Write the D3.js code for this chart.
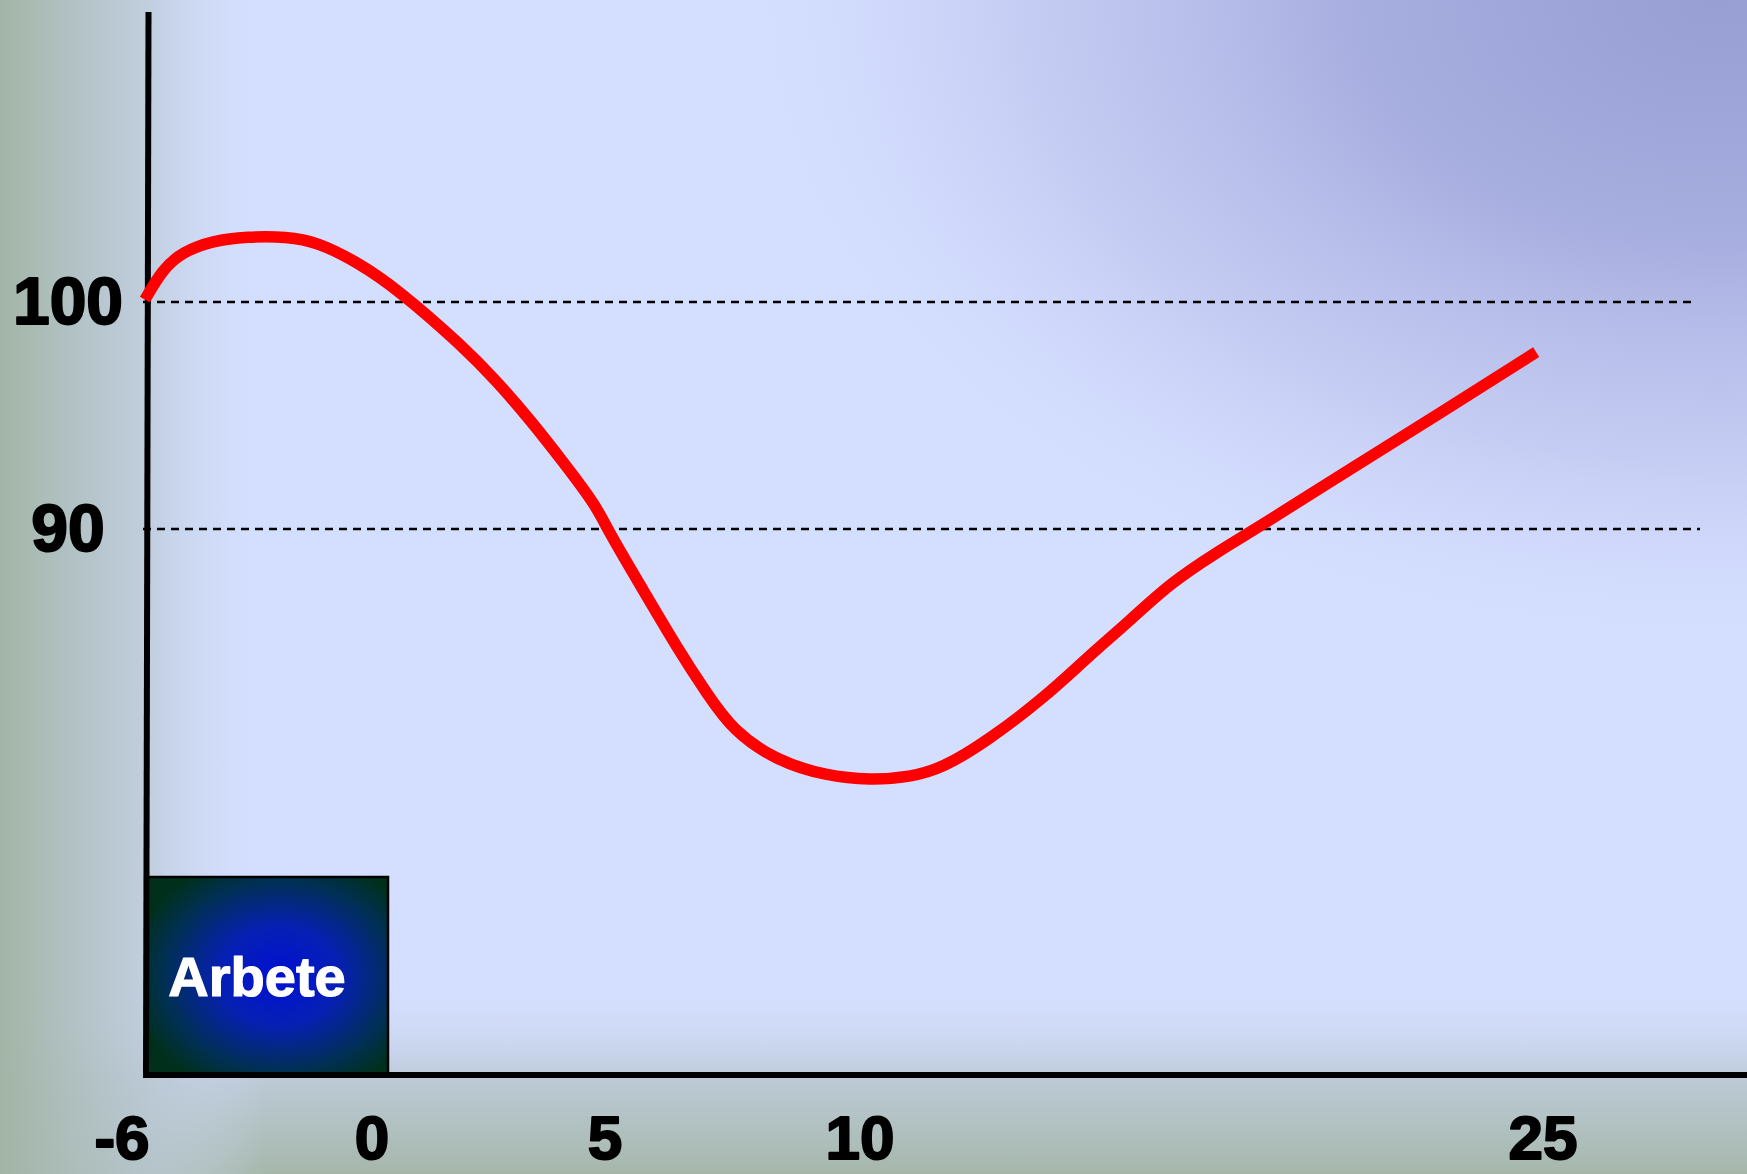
<!DOCTYPE html>
<html>
<head>
<meta charset="utf-8">
<script src="https://cdn.jsdelivr.net/npm/d3@7"></script>
<style>
  html, body { margin: 0; padding: 0; background: #d4defe; overflow: hidden; }
  svg { display: block; }
</style>
</head>
<body>
<script>
// Horizontal axis categories (time points) and reference levels
const xTicks = [-6, 0, 5, 10, 25];
const yTicks = [90, 100];

// Curve: time point and level
const times  = [-5.45, -5.02, -4.54, -3.82, -3.0, -2.04, -1.32, -0.36, 0.54, 1.95, 2.68, 3.39, 4.10, 4.83, 5.04,
                5.75, 6.41, 7.0, 7.51, 8.37, 9.35, 10.22, 11.10, 11.82, 12.79, 14.02, 14.99, 15.93, 16.81, 17.84,
                18.72, 20.32, 22.52, 24.85];
const levels = [100.1, 101.46, 102.21, 102.70, 102.88, 102.88, 102.65, 101.77, 100.58, 98.05, 96.50, 94.82, 92.96, 90.97, 90.0,
                87.30, 84.78, 82.74, 81.11, 79.78, 79.12, 78.94, 79.07, 79.47, 80.66, 82.52, 84.34, 85.97, 87.61, 88.98,
                90.04, 92.08, 94.82, 97.79];

const boxLabel = "Arbete";

const W = 1747, H = 1174;
const FONT = "'Comic Sans MS', 'Liberation Sans', Arial, sans-serif";

const svg = d3.select("body").append("svg").attr("width", W).attr("height", H);
const defs = svg.append("defs");

// Background gradients
const gLeft = defs.append("linearGradient").attr("id", "bgLeft")
  .attr("gradientUnits", "userSpaceOnUse").attr("x1", 0).attr("y1", 0).attr("x2", 265).attr("y2", 0);
gLeft.append("stop").attr("offset", 0).attr("stop-color", "#a2b4a5").attr("stop-opacity", 1);
gLeft.append("stop").attr("offset", 0.55).attr("stop-color", "#b9c8d3").attr("stop-opacity", 0.75);
gLeft.append("stop").attr("offset", 1).attr("stop-color", "#d4defe").attr("stop-opacity", 0);

const gBottom = defs.append("linearGradient").attr("id", "bgBottom")
  .attr("gradientUnits", "userSpaceOnUse").attr("x1", 0).attr("y1", 985).attr("x2", 0).attr("y2", H);
gBottom.append("stop").attr("offset", 0).attr("stop-color", "#d4defe").attr("stop-opacity", 0);
gBottom.append("stop").attr("offset", 0.5).attr("stop-color", "#bccad7").attr("stop-opacity", 1);
gBottom.append("stop").attr("offset", 1).attr("stop-color", "#a6b7aa").attr("stop-opacity", 1);

const gCorner = defs.append("radialGradient").attr("id", "bgCorner")
  .attr("gradientUnits", "userSpaceOnUse")
  .attr("cx", 1720).attr("cy", 0).attr("r", 1000)
  .attr("gradientTransform", "translate(1720,0) scale(1,0.66) translate(-1720,0)");
gCorner.append("stop").attr("offset", 0).attr("stop-color", "#979fd3").attr("stop-opacity", 1);
gCorner.append("stop").attr("offset", 0.35).attr("stop-color", "#a6addf").attr("stop-opacity", 1);
gCorner.append("stop").attr("offset", 0.7).attr("stop-color", "#c0c7f0").attr("stop-opacity", 0.75);
gCorner.append("stop").attr("offset", 1).attr("stop-color", "#d4defe").attr("stop-opacity", 0);

// Box fill
const gBox = defs.append("radialGradient").attr("id", "boxFill")
  .attr("cx", 0.55).attr("cy", 0.5).attr("r", 0.62);
gBox.append("stop").attr("offset", 0).attr("stop-color", "#0010d4");
gBox.append("stop").attr("offset", 0.4).attr("stop-color", "#0620b4");
gBox.append("stop").attr("offset", 0.78).attr("stop-color", "#003052");
gBox.append("stop").attr("offset", 1).attr("stop-color", "#00301c");

svg.append("rect").attr("width", W).attr("height", H).attr("fill", "#d4defe");
svg.append("rect").attr("width", W).attr("height", H).attr("fill", "url(#bgCorner)");
svg.append("rect").attr("width", W).attr("height", H).attr("fill", "url(#bgBottom)");
svg.append("rect").attr("width", W).attr("height", H).attr("fill", "url(#bgLeft)");

// Scales
const x = d3.scaleLinear().domain(xTicks).range([122, 372, 605, 860, 1543]);
const y = d3.scaleLinear().domain([90, 100]).range([529, 302]);

const axisX = 147;
const axisTop = 12, axisBottomY = 1075;

// Reference (dashed) lines
svg.append("g").selectAll("line").data(yTicks).join("line")
  .attr("x1", 143).attr("x2", d => d === 100 ? 1697 : 1700)
  .attr("y1", d => y(d)).attr("y2", d => y(d))
  .attr("stroke", "#000").attr("stroke-width", 2.4)
  .attr("stroke-dasharray", "8,6");

// Work period box
const box = svg.append("g");
box.append("rect")
  .attr("x", axisX).attr("y", 877).attr("width", 241).attr("height", axisBottomY - 877)
  .attr("fill", "url(#boxFill)").attr("stroke", "#000").attr("stroke-width", 2.5);
box.append("text")
  .attr("x", 257).attr("y", 996)
  .attr("text-anchor", "middle")
  .attr("font-family", FONT).attr("font-weight", "bold").attr("font-size", 56)
  .attr("fill", "#ffffff").attr("stroke", "#ffffff").attr("stroke-width", 1.2)
  .attr("stroke-linejoin", "round")
  .text(boxLabel);

// Axes
svg.append("line")
  .attr("x1", axisX + 1.5).attr("y1", axisTop).attr("x2", axisX - 1).attr("y2", axisBottomY + 3)
  .attr("stroke", "#000").attr("stroke-width", 6);
svg.append("line")
  .attr("x1", 143).attr("y1", axisBottomY).attr("x2", W).attr("y2", axisBottomY)
  .attr("stroke", "#000").attr("stroke-width", 6);

// Curve
const line = d3.line()
  .x(d => x(d[0]))
  .y(d => y(d[1]))
  .curve(d3.curveBasis);
svg.append("path")
  .datum(d3.zip(times, levels))
  .attr("d", line)
  .attr("fill", "none")
  .attr("stroke", "#ff0000")
  .attr("stroke-width", 11.5)
  .attr("stroke-linecap", "butt")
  .attr("stroke-linejoin", "round");

// Tick labels
svg.append("g").selectAll("text").data(xTicks).join("text")
  .attr("x", d => x(d)).attr("y", 1159)
  .attr("text-anchor", "middle")
  .attr("font-family", FONT).attr("font-weight", "bold").attr("font-size", 62)
  .attr("fill", "#000").attr("stroke", "#000").attr("stroke-width", 2)
  .attr("stroke-linejoin", "round")
  .text(d => d);

svg.append("g").selectAll("text").data(yTicks).join("text")
  .attr("x", 68).attr("y", d => y(d)).attr("dy", "0.33em")
  .attr("text-anchor", "middle")
  .attr("font-family", FONT).attr("font-weight", "bold").attr("font-size", 66)
  .attr("fill", "#000").attr("stroke", "#000").attr("stroke-width", 2)
  .attr("stroke-linejoin", "round")
  .text(d => d);
</script>
</body>
</html>
